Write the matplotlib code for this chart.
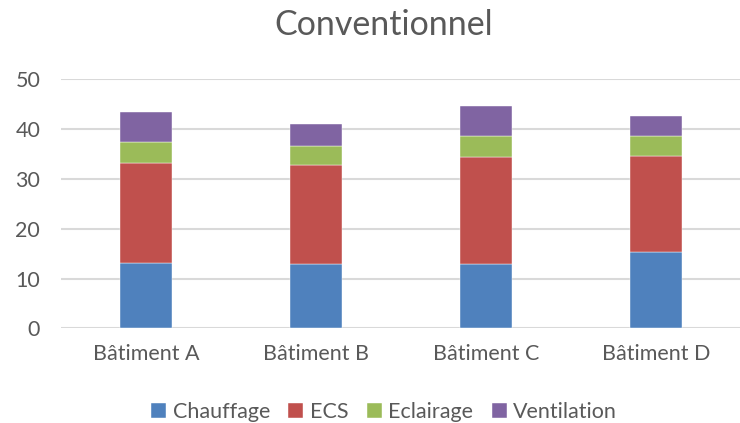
import matplotlib
matplotlib.use("Agg")
import matplotlib.pyplot as plt
import numpy as np

categories = ["Bâtiment A", "Bâtiment B", "Bâtiment C", "Bâtiment D"]
series_names = ["Chauffage", "ECS", "Eclairage", "Ventilation"]
chauffage = [13.2, 13.0, 13.0, 15.3]
ecs = [19.9, 19.8, 21.3, 19.3]
eclairage = [4.3, 3.8, 4.4, 4.1]
ventilation = [6.0, 4.4, 5.9, 3.9]
yticks = [0, 10, 20, 30, 40, 50]
colors = ["#4F81BD", "#C0504D", "#9BBB59", "#8064A2"]

plt.rcParams['font.family'] = ['Lato', 'DejaVu Sans']
TXT = "#595959"

fig = plt.figure(figsize=(7.4, 4.23), dpi=100)
ax = fig.add_axes([61/740, 1 - 328.3/423, 680/740, (328.3 - 79.3)/423])

x = np.arange(len(categories))
bottom = np.zeros(len(categories))
for name, vals, c in zip(series_names, [chauffage, ecs, eclairage, ventilation], colors):
    ax.bar(x, vals, width=0.31, bottom=bottom, color=c, label=name, zorder=3,
           edgecolor="white", linewidth=0.3)
    bottom += np.array(vals)

ax.set_xlim(-0.5, len(categories) - 0.5)
ax.set_ylim(0, 50)
ax.set_yticks(yticks)
ax.set_xticks(x)
ax.set_xticklabels(categories)
ax.yaxis.grid(True, color="#D9D9D9", linewidth=1.5, zorder=0)
for s in ax.spines.values():
    s.set_visible(False)
ax.tick_params(axis="both", length=0, labelsize=15.5, labelcolor=TXT)
ax.tick_params(axis="x", pad=11)
ax.tick_params(axis="y", pad=15)

fig.text(0.518, 1 - 25/423, "Conventionnel", ha="center", va="center",
         fontsize=24.5, color=TXT)

fig.legend(loc="center", bbox_to_anchor=(0.519, 1 - 412/423), ncol=4, frameon=False,
           fontsize=15.5, labelcolor=TXT, handlelength=0.7, handleheight=0.7,
           handletextpad=0.3, columnspacing=0.85, borderaxespad=0)

fig.savefig("out.png", dpi=100)
